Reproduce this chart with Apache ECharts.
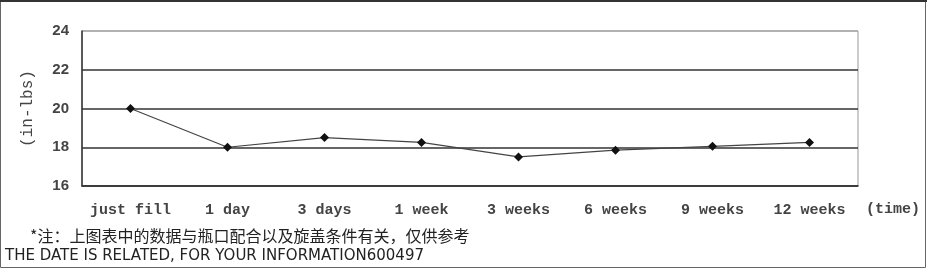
<!DOCTYPE html>
<html><head><meta charset="utf-8">
<script src="https://cdn.jsdelivr.net/npm/echarts@6/dist/echarts.min.js"></script>
<style>html,body{margin:0;padding:0;background:#fff}#c{width:927px;height:269px}</style>
</head><body><div id="c"></div>
<script>
const categories = ['just fill','1 day','3 days','1 week','3 weeks','6 weeks','9 weeks','12 weeks'];
const torque = [20, 18, 18.5, 18.25, 17.5, 17.85, 18.05, 18.25];
const yTicks = {min: 16, max: 24, interval: 2};
const yName = '(in-lbs)';
const xName = '(time)';
const noteCn = '*注：上图表中的数据与瓶口配合以及旋盖条件有关，仅供参考';
const noteEn = 'THE DATE IS RELATED, FOR YOUR INFORMATION600497';

const chart = echarts.init(document.getElementById('c'));
const mono = 'Liberation Mono';
chart.setOption({
  animation: false,
  grid: {left: 82, right: 69, top: 31, bottom: 83, show: true, borderColor: '#999', borderWidth: 1},
  xAxis: {
    type: 'category', data: categories, boundaryGap: true,
    axisLine: {lineStyle: {color: '#333', width: 1.5}},
    axisTick: {inside: true, length: 4, lineStyle: {color: '#333'}},
    axisLabel: {color: '#444', fontFamily: mono, fontSize: 15, fontWeight: 'bold', margin: 17, interval: 0}
  },
  yAxis: {
    type: 'value', min: yTicks.min, max: yTicks.max, interval: yTicks.interval,
    name: yName, nameLocation: 'middle', nameRotate: 90, nameGap: 46,
    nameTextStyle: {color: '#444', fontFamily: mono, fontSize: 16},
    axisLine: {show: true, lineStyle: {color: '#333', width: 1.5}},
    axisTick: {show: false},
    axisLabel: {color: '#444', fontFamily: 'Liberation Sans', fontSize: 15, fontWeight: 'bold', margin: 13},
    splitLine: {lineStyle: {color: ['#333', '#333', '#333', '#333', '#aaa'], width: 1.5}}
  },
  series: [{
    type: 'line', data: torque,
    symbol: 'diamond', symbolSize: 9,
    itemStyle: {color: '#111'},
    lineStyle: {color: '#444', width: 1.2}
  }],
  graphic: [
    {type: 'rect', shape: {x: 0.5, y: 0.5, width: 925, height: 267}, style: {fill: 'none', stroke: '#666', lineWidth: 1}},
    {type: 'line', shape: {x1: 0, y1: 1, x2: 927, y2: 1}, style: {stroke: '#333', lineWidth: 2}},
    {type: 'text', left: 866, top: 202, style: {text: xName, font: 'bold 15px "Liberation Mono"', fill: '#444'}},
    {type: 'text', left: 30, top: 228, style: {text: noteCn, font: '16px "Noto Sans CJK SC"', fill: '#222'}},
    {type: 'text', left: 5, top: 249, style: {text: noteEn, font: '15px "DejaVu Sans"', fill: '#222'}}
  ]
});
</script></body></html>
